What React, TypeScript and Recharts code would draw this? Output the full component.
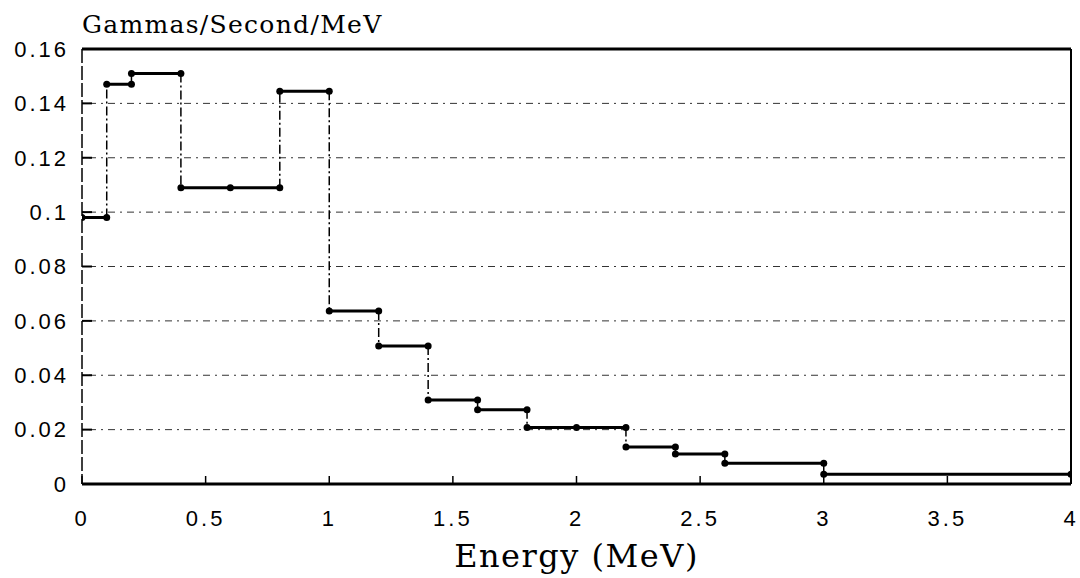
import React from 'react';
import { ComposedChart, Line, XAxis, YAxis, CartesianGrid, ReferenceLine } from 'recharts';

// Bin edges (MeV) and step heights (Gammas/Second/MeV)
const binEdges = [0, 0.1, 0.2, 0.4, 0.8, 1.0, 1.2, 1.4, 1.6, 1.8, 2.2, 2.4, 2.6, 3.0, 4.0];
const binValues = [0.098, 0.147, 0.151, 0.109, 0.1445, 0.0636, 0.0508, 0.0309, 0.0273, 0.0208, 0.0136, 0.011, 0.0076, 0.0036];
// extra markers placed in the middle of some wide bins
const midMarkerEnergies = [0.6, 2.0];

const xTicks = [0, 0.5, 1, 1.5, 2, 2.5, 3, 3.5, 4];
const yTicks = [0, 0.02, 0.04, 0.06, 0.08, 0.1, 0.12, 0.14, 0.16];

const xTitle = 'Energy (MeV)';
const yTitle = 'Gammas/Second/MeV';

type Row = { x: number; y: number | null };

const horizontalRows: Row[] = [];
binValues.forEach((v, i) => {
  const a = binEdges[i];
  const b = binEdges[i + 1];
  horizontalRows.push({ x: a, y: v });
  midMarkerEnergies.filter((m) => m > a && m < b).forEach((m) => horizontalRows.push({ x: m, y: v }));
  horizontalRows.push({ x: b, y: v });
  horizontalRows.push({ x: b, y: null });
});

const riserRows: Row[] = [];
for (let i = 1; i < binValues.length; i++) {
  const e = binEdges[i];
  riserRows.push({ x: e, y: binValues[i - 1] });
  riserRows.push({ x: e, y: binValues[i] });
  riserRows.push({ x: e, y: null });
}

const tickFont = {
  fontSize: 22,
  fill: '#000',
  fontFamily: '"Liberation Sans", Arial, sans-serif',
  letterSpacing: 3,
};

export default function App() {
  return (
    <div
      style={{
        position: 'absolute',
        left: 0,
        top: 0,
        width: 1080,
        height: 578,
        background: '#fff',
        fontFamily: '"Liberation Sans", Arial, sans-serif',
      }}
    >
      <div
        style={{
          position: 'absolute',
          left: 82,
          top: 12,
          fontFamily: '"DejaVu Serif", serif',
          fontSize: 25,
          lineHeight: '25px',
          letterSpacing: 1.3,
          color: '#000',
          whiteSpace: 'nowrap',
        }}
      >
        {yTitle}
      </div>
      <ComposedChart width={1080} height={578} margin={{ top: 49, right: 9, left: 0, bottom: 34 }}>
        <CartesianGrid
          vertical={false}
          horizontal
          stroke="#333"
          strokeWidth={1}
          strokeDasharray="2 5 7 5"
        />
        <XAxis
          type="number"
          dataKey="x"
          domain={[0, 4]}
          ticks={xTicks}
          interval={0}
          allowDataOverflow
          height={60}
          tickSize={-8}
          tickMargin={34}
          axisLine={{ stroke: '#000', strokeWidth: 3 }}
          tickLine={{ stroke: '#000', strokeWidth: 1.5 }}
          tick={tickFont}
          label={{
            value: xTitle,
            position: 'bottom',
            offset: 0,
            style: {
              fontFamily: '"DejaVu Serif", serif',
              fontSize: 32,
              fill: '#000',
              letterSpacing: 1.5,
            },
          }}
        />
        <YAxis
          type="number"
          domain={[0, 0.16]}
          ticks={yTicks}
          interval={0}
          allowDataOverflow
          width={82}
          tickSize={-10}
          tickMargin={23}
          axisLine={{ stroke: '#000', strokeWidth: 1.5, strokeDasharray: '14 3' }}
          tickLine={{ stroke: '#000', strokeWidth: 2 }}
          tick={tickFont}
        />
        <ReferenceLine y={0.16} stroke="#000" strokeWidth={3} ifOverflow="visible" />
        <ReferenceLine x={4} stroke="#000" strokeWidth={2} ifOverflow="visible" />
        <Line
          data={riserRows}
          dataKey="y"
          stroke="#000"
          strokeWidth={1.5}
          strokeDasharray="9 3 2 3"
          dot={false}
          activeDot={false}
          connectNulls={false}
          isAnimationActive={false}
        />
        <Line
          data={horizontalRows}
          dataKey="y"
          stroke="#000"
          strokeWidth={3}
          dot={{ r: 3.5, fill: '#000', stroke: 'none' }}
          activeDot={false}
          connectNulls={false}
          isAnimationActive={false}
        />
      </ComposedChart>
    </div>
  );
}
